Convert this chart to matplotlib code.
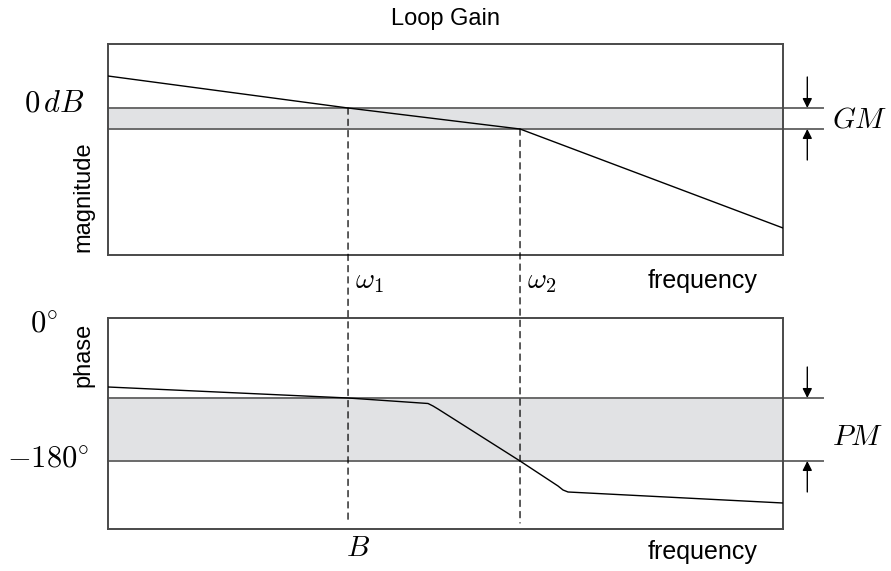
"""Loop gain Bode sketch with gain and phase margins."""

import matplotlib.pyplot as plt
from matplotlib.patches import ConnectionPatch

plt.rcParams['mathtext.fontset'] = 'cm'
plt.rcParams['font.family'] = ['Liberation Sans', 'DejaVu Sans']

# frequency axis runs 0..10 (arbitrary units)
w1 = 3.556   # gain crossover
w2 = 6.104   # phase crossover

# magnitude curve (dB-like units)
mag_freq = [0.0, w1, w2, 10.0]
mag_db = [3.2, 0.0, -2.1, -12.0]
gain_margin = 2.1

# phase curve (degrees)
phase_freq = [0.0, w1, 4.741, 4.815, 4.889, w2, 6.667, 6.741, 6.815, 10.0]
phase_deg = [-86.85, -100.70, -107.62, -110.77, -114.55, -180.0,
             -211.47, -216.50, -219.02, -232.87]
phase_margin = 79.3

frame_col = '#4a4a4a'
band_col = '#e1e2e4'
band_edge = '#6a6a6a'

fig = plt.figure(figsize=(8.91, 5.71), dpi=100)
W, H = 891, 571
ax_m = fig.add_axes([108 / W, 1 - 255 / H, 675 / W, 211 / H])
ax_p = fig.add_axes([108 / W, 1 - 529 / H, 675 / W, 211 / H])

for ax in (ax_m, ax_p):
    ax.set_xlim(0, 10)
    ax.set_xticks([])
    ax.set_yticks([])
    for sp in ax.spines.values():
        sp.set_color(frame_col)
        sp.set_linewidth(1.4)

ax_m.set_ylim(-14.7, 6.4)
ax_p.set_ylim(-265.6, 0)

x_ext = 10.59   # band edge lines run past the frame
x_arr = 10.36   # margin arrows


def margin_band(ax, top, bottom, arrow_top, arrow_bottom, label, label_y):
    ax.axhspan(bottom, top, color=band_col, lw=0, zorder=0)
    for y in (top, bottom):
        ax.plot([0, x_ext], [y, y], color=band_edge, lw=1.4,
                clip_on=False, zorder=1)
    kw = dict(arrowstyle='-|>', color='black', lw=1.0, mutation_scale=14,
              shrinkA=0, shrinkB=0)
    ax.annotate('', xy=(x_arr, top), xytext=(x_arr, arrow_top),
                arrowprops=kw, annotation_clip=False)
    ax.annotate('', xy=(x_arr, bottom), xytext=(x_arr, arrow_bottom),
                arrowprops=kw, annotation_clip=False)
    ax.text(10.73, label_y, label, fontsize=21, ha='left', va='baseline')


margin_band(ax_m, 0.0, -gain_margin, 3.1, -5.2, r'$GM$', -1.9)
margin_band(ax_p, -180 + phase_margin, -180.0, -61.7, -219.0, r'$PM$', -159.9)

ax_m.plot(mag_freq, mag_db, color='black', lw=1.0, zorder=3)
ax_p.plot(phase_freq, phase_deg, color='black', lw=1.0, zorder=3)

# dashed crossover markers through both panels
for w, y0 in ((w1, 0.0), (w2, -gain_margin)):
    con = ConnectionPatch(xyA=(w, y0), coordsA=ax_m.transData,
                          xyB=(w, -258), coordsB=ax_p.transData,
                          color='black', lw=0.9, linestyle=(0, (5, 4)),
                          zorder=4)
    fig.add_artist(con)

# labels
ax_m.set_title('Loop Gain', fontsize=17, pad=14)
ax_m.text(-0.034, -0.3, r'$0\,dB$', transform=ax_m.get_yaxis_transform(),
          fontsize=22, ha='right', va='baseline')
ax_m.text(-0.036, 0.275, 'magnitude', transform=ax_m.transAxes,
          rotation=90, fontsize=17, ha='center', va='center')
ax_m.text(w1 + 0.1, -0.156, r'$\omega_1$', transform=ax_m.get_xaxis_transform(),
          fontsize=21, ha='left', va='baseline')
ax_m.text(w2 + 0.1, -0.156, r'$\omega_2$', transform=ax_m.get_xaxis_transform(),
          fontsize=21, ha='left', va='baseline')
ax_m.text(8.81, -0.156, 'frequency', transform=ax_m.get_xaxis_transform(),
          fontsize=18, ha='center', va='baseline')

ax_p.text(-0.095, -17.6, r'$0^{\circ}$', transform=ax_p.get_yaxis_transform(),
          fontsize=22, ha='center', va='baseline')
ax_p.text(-0.027, -187.6, r'$-180^{\circ}$', transform=ax_p.get_yaxis_transform(),
          fontsize=22, ha='right', va='baseline')
ax_p.text(-0.036, 0.825, 'phase', transform=ax_p.transAxes,
          rotation=90, fontsize=17, ha='center', va='center')
ax_p.text(w1 + 0.15, -0.13, r'$B$', transform=ax_p.get_xaxis_transform(),
          fontsize=21, ha='center', va='baseline')
ax_p.text(8.81, -0.14, 'frequency', transform=ax_p.get_xaxis_transform(),
          fontsize=18, ha='center', va='baseline')

fig.savefig('out.png', dpi=100)
